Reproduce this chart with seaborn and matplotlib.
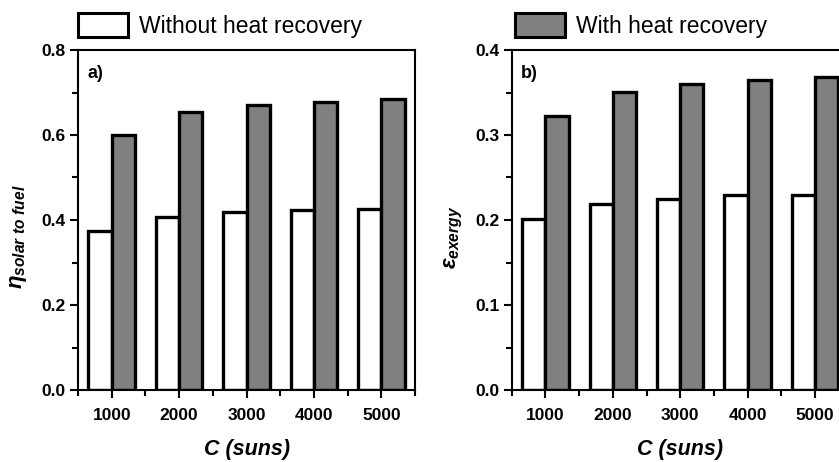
import matplotlib
matplotlib.use("Agg")
import numpy as np
import pandas as pd
import seaborn as sns
import matplotlib.pyplot as plt
from matplotlib.patches import Patch
from matplotlib.ticker import MultipleLocator

# ---- data ----
C_values = [1000, 2000, 3000, 4000, 5000]
series_labels = ["Without heat recovery", "With heat recovery"]
eta_without = [0.374, 0.408, 0.419, 0.424, 0.426]
eta_with = [0.599, 0.654, 0.671, 0.678, 0.684]
exergy_without = [0.201, 0.219, 0.225, 0.229, 0.230]
exergy_with = [0.322, 0.351, 0.360, 0.365, 0.368]
bar_colors = ["white", "#808080"]

sns.set_theme(style="ticks")
plt.rcParams["font.family"] = ["Liberation Sans", "DejaVu Sans"]
plt.rcParams["mathtext.fontset"] = "custom"
plt.rcParams["mathtext.rm"] = "Liberation Sans:bold"
plt.rcParams["mathtext.it"] = "Liberation Sans:italic:bold"
plt.rcParams["mathtext.bf"] = "Liberation Sans:bold"
plt.rcParams["text.color"] = "black"


def long_df(without, with_):
    return pd.DataFrame({
        "C": C_values * 2,
        "case": [series_labels[0]] * len(C_values) + [series_labels[1]] * len(C_values),
        "val": list(without) + list(with_),
    })


fig = plt.figure(figsize=(8.39, 4.62), dpi=100)
fig.patch.set_facecolor("white")
W, H = 839, 462
ax_w = 337 / W
ax_h = 340 / H
ax_b = (H - 390) / H
axA = fig.add_axes([78 / W, ax_b, ax_w, ax_h])
axB = fig.add_axes([511.7 / W, ax_b, ax_w, ax_h])

panels = [
    (axA, long_df(eta_without, eta_with), 0.8, 0.2, 0.1, r"$\eta_{solar\ to\ fuel}$", "a)", 0, 0.0, -0.145),
    (axB, long_df(exergy_without, exergy_with), 0.4, 0.1, 0.05, r"$\varepsilon_{exergy}$", "b)", 1, 0.01, -0.14),
]

for ax, df, ymax, ymaj, ymin_, ylab, tag, li, lx, ylx in panels:
    ax.set_facecolor("white")
    sns.barplot(data=df, x="C", y="val", hue="case", hue_order=series_labels,
                palette=bar_colors, native_scale=True, width=0.69,
                edgecolor="black", linewidth=2.4, errorbar=None,
                saturation=1, legend=False, ax=ax)
    ax.set_xlim(500, 5500)
    ax.set_ylim(0, ymax)
    ax.set_xticks(C_values)
    ax.xaxis.set_minor_locator(MultipleLocator(500))
    ax.yaxis.set_major_locator(MultipleLocator(ymaj))
    ax.yaxis.set_minor_locator(MultipleLocator(ymin_))
    ax.yaxis.set_major_formatter(matplotlib.ticker.FormatStrFormatter("%.1f"))
    ax.tick_params(which="both", direction="out", top=False, right=False,
                   width=1.5, color="black", labelcolor="black")
    ax.tick_params(which="major", length=6, labelsize=12.5)
    ax.tick_params(which="minor", length=4)
    ax.tick_params(axis="x", which="major", pad=7)
    ax.tick_params(axis="y", which="major", pad=3)
    for lab in ax.get_xticklabels() + ax.get_yticklabels():
        lab.set_fontweight("bold")
    for sp in ax.spines.values():
        sp.set_visible(True)
        sp.set_linewidth(1.5)
        sp.set_color("black")
    ax.set_xlabel("C (suns)", fontsize=15.5, fontweight="bold", fontstyle="italic", color="black")
    ax.xaxis.set_label_coords(0.5, -0.145)
    ax.set_ylabel(ylab, fontsize=16, color="black")
    ax.yaxis.set_label_coords(ylx, 0.45)
    ax.text(0.027, 0.955, tag, transform=ax.transAxes, ha="left", va="top",
            fontsize=13, fontweight="bold", color="black")
    handle = Patch(facecolor=bar_colors[li], edgecolor="black", linewidth=2.2)
    ax.legend([handle], [series_labels[li]], loc="center left",
              bbox_to_anchor=(lx, 1.072), frameon=False, fontsize=16.5,
              handlelength=2.2, handleheight=1.2, handletextpad=0.45,
              borderpad=0, borderaxespad=0, labelcolor="black")

fig.savefig("out.png", dpi=100, facecolor="white")
